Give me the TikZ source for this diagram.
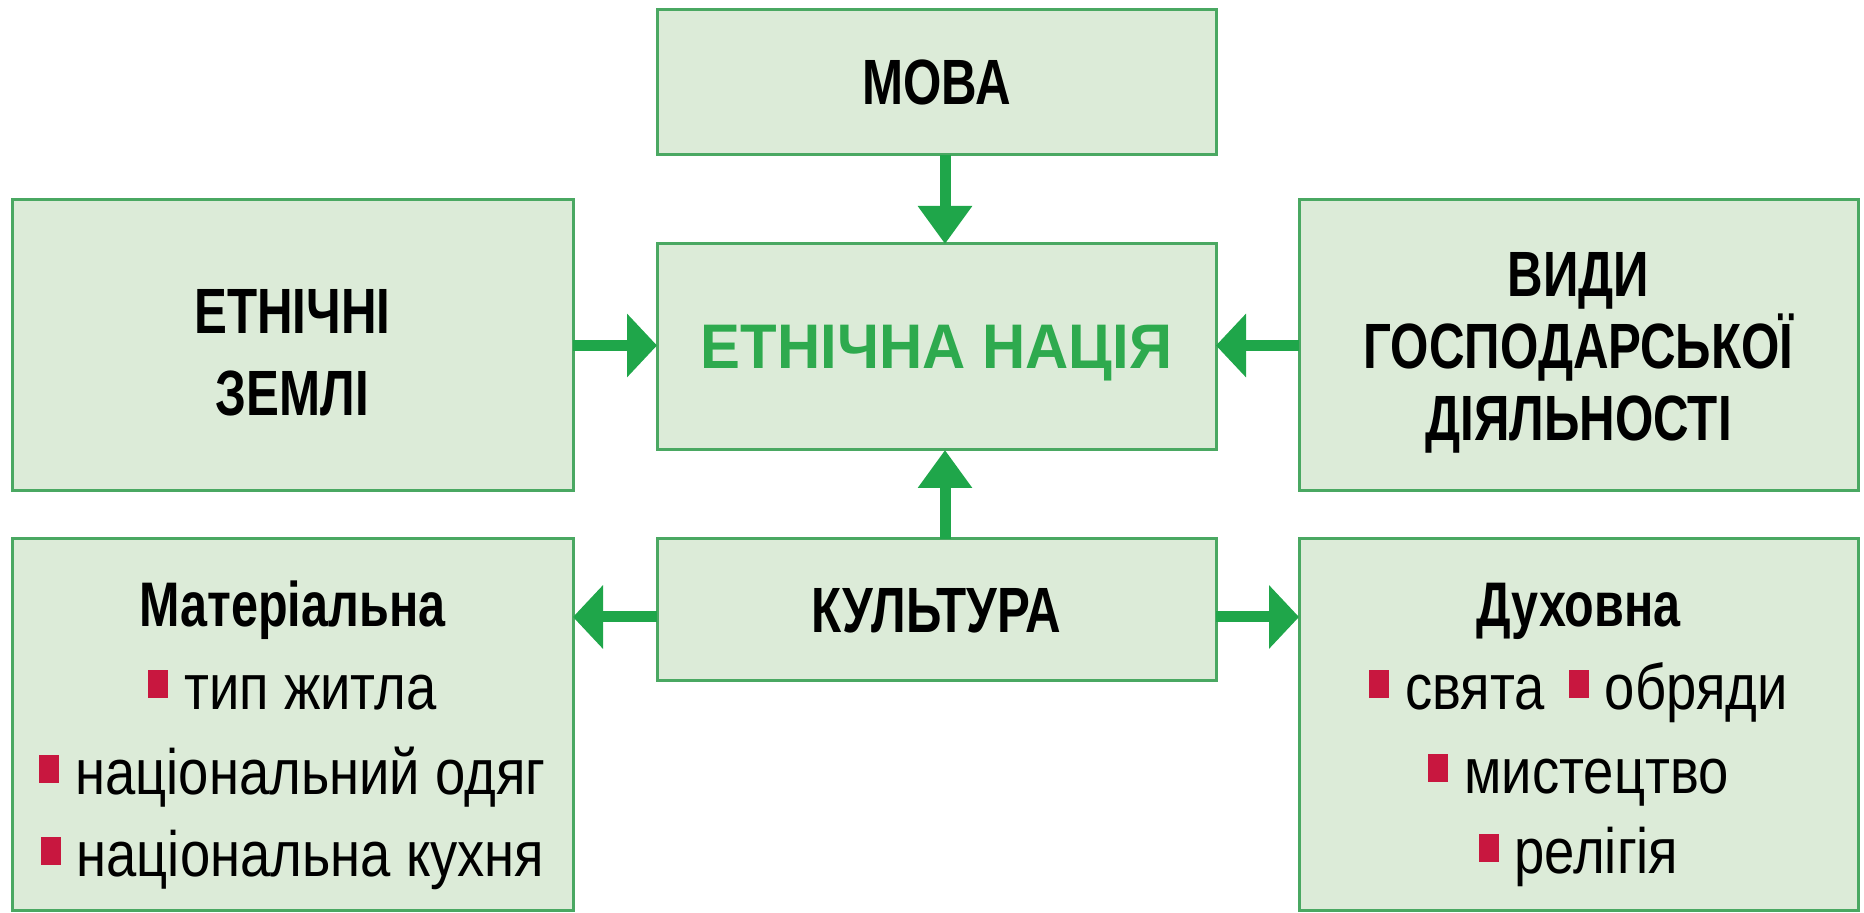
\documentclass[tikz,border=0pt]{standalone}
\usepackage{fontspec}
\setmainfont{Liberation Sans}
\newfontfamily\bcond{Liberation Sans}[FakeStretch=0.77]
\newfontfamily\bwide{Liberation Sans}[FakeStretch=0.95]
\newfontfamily\ncond{Liberation Sans}[FakeStretch=0.85]
\usetikzlibrary{arrows.meta}
\definecolor{boxfill}{HTML}{DCEBD8}
\definecolor{boxline}{HTML}{4AA862}
\definecolor{arrgreen}{HTML}{1FA64A}
\definecolor{titlegreen}{HTML}{2EAA4E}
\definecolor{bulc}{HTML}{C8173F}
\newcommand{\bul}{\textcolor{bulc}{\rule[6pt]{10pt}{14pt}}\hspace{8pt}}
\begin{document}
\begin{tikzpicture}[x=0.5pt,y=-0.5pt,
  box/.style={draw=boxline, line width=1.5pt, fill=boxfill, inner sep=0pt, outer sep=0pt, align=center},
  bigtxt/.style={font=\bcond\bfseries\fontsize{32}{41}\selectfont},
  boxtxt/.style={inner sep=0pt, align=center},
  subtitle/.style={font=\bcond\bfseries\fontsize{31.5}{36}\selectfont, anchor=base, inner sep=0pt},
  item/.style={font=\ncond\fontsize{32}{40}\selectfont, anchor=base, inner sep=0pt},
  conn/.style={draw=arrgreen, line width=5.5pt},
  varr/.style={conn, -{Triangle[length=19pt,width=26pt]}},
  harr/.style={conn, -{Triangle[length=15pt,width=31pt]}}]
\useasboundingbox (0,0) rectangle (1864,913);

\node[box, bigtxt, text depth=0pt, minimum width=279.5pt, minimum height=72.5pt] (mova) at (936.5,82.5) {МОВА};
\node[box, font=\bwide\bfseries\fontsize{31.5}{41}\selectfont, text=titlegreen, text depth=0pt, minimum width=279.5pt, minimum height=103pt] (nation) at (936.5,347) {ЕТНІЧНА НАЦІЯ};
\node[box, minimum width=280.5pt, minimum height=145.5pt] (lands) at (292.5,345.5) {};
\node[boxtxt, bigtxt] (landsT) at ([yshift=-3.5pt]lands.center) {ЕТНІЧНІ\\ЗЕМЛІ};
\node[box, minimum width=279.5pt, minimum height=145.5pt] (vydy) at (1578.5,345.5) {};
\node[boxtxt, font=\bcond\bfseries\fontsize{32}{36}\selectfont] (vydyT) at ([yshift=-3.5pt]vydy.center) {ВИДИ\\ГОСПОДАРСЬКОЇ\\ДІЯЛЬНОСТІ};
\node[box, bigtxt, text depth=0pt, minimum width=279.5pt, minimum height=71pt] (kult) at (936.5,610) {КУЛЬТУРА};
\node[box, minimum width=280.5pt, minimum height=186pt] (mat) at (292.5,725) {};
\node[box, minimum width=279.5pt, minimum height=186pt] (duh) at (1578.5,725) {};

\node[subtitle] (matT) at (292.5,627) {Матеріальна};
\node[item] (mat1) at (292.5,710) {\bul тип житла};
\node[item] (mat2) at (292.5,795) {\bul національний одяг};
\node[item] (mat3) at (292.5,877) {\bul національна кухня};

\node[subtitle] (duhT) at (1578.5,627) {Духовна};
\node[item] (duh1) at (1578.5,710) {\bul свята\hspace{12pt}\bul обряди};
\node[item] (duh2) at (1578.5,794) {\bul мистецтво};
\node[item] (duh3) at (1578.5,874) {\bul релігія};

\draw[varr] ([xshift=4.25pt]mova.south) -- ([xshift=4.25pt]nation.north);
\draw[varr] ([xshift=4.25pt]kult.north) -- ([xshift=4.25pt]nation.south);
\draw[harr] (lands.east) -- (lands.east -| nation.west);
\draw[harr] (vydy.west) -- (vydy.west -| nation.east);
\draw[harr] ([yshift=-3.5pt]kult.west) -- ([yshift=-3.5pt]kult.west -| mat.east);
\draw[harr] ([yshift=-3.5pt]kult.east) -- ([yshift=-3.5pt]kult.east -| duh.west);
\end{tikzpicture}
\end{document}
